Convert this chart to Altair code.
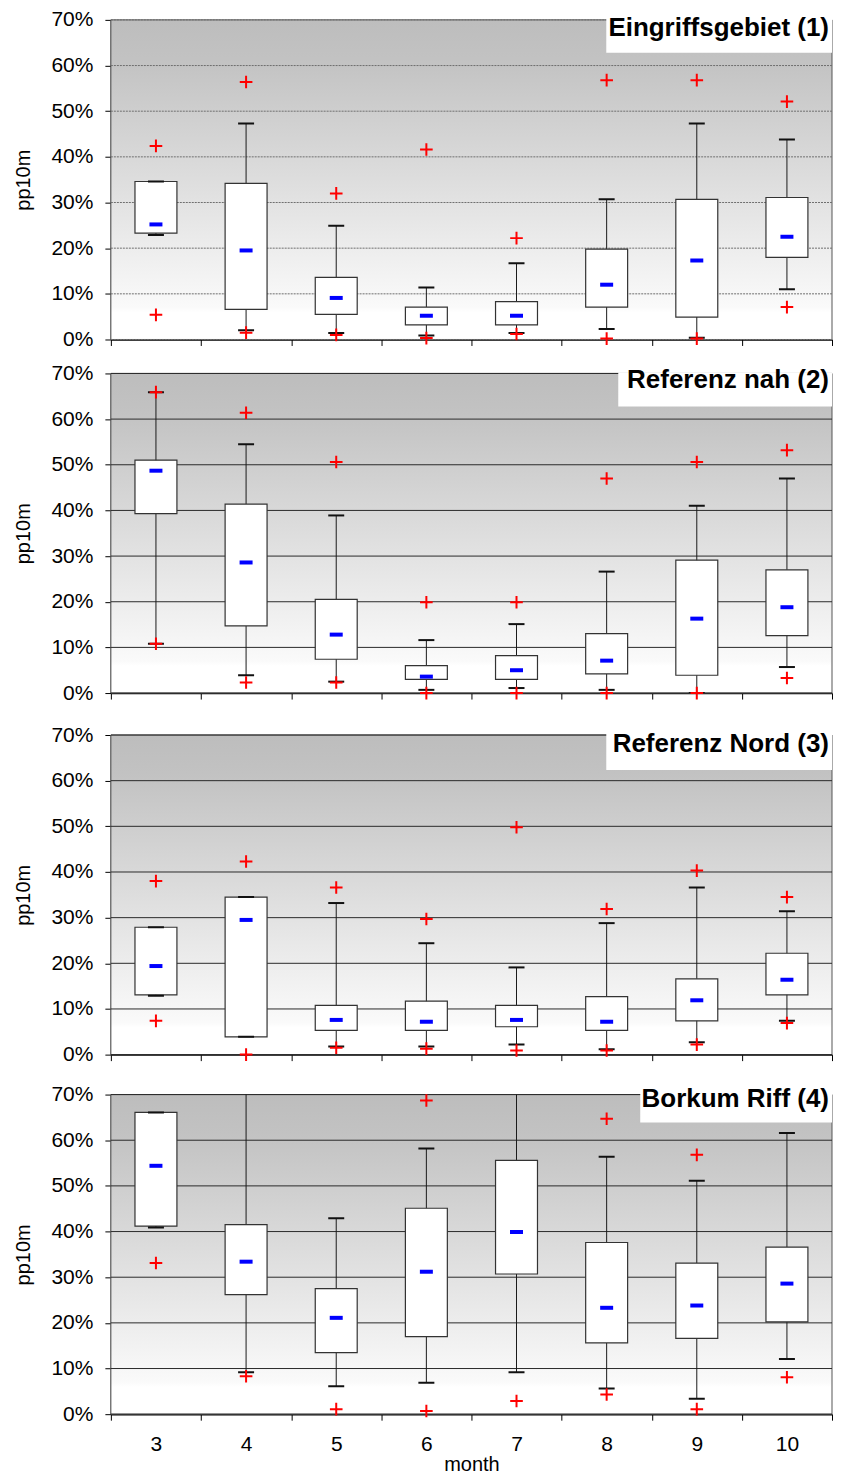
import altair as alt
import pandas as pd

months = [3, 4, 5, 6, 7, 8, 9, 10]
y_ticks = [0, 0.1, 0.2, 0.3, 0.4, 0.5, 0.6, 0.7]
titles = ["Eingriffsgebiet (1)", "Referenz nah (2)", "Referenz Nord (3)", "Borkum Riff (4)"]

# values in percent
p1_out_hi = [42.4, 56.4, 32.0, 41.6, 22.2, 56.8, 56.8, 52.1]
p1_wh_hi = [34.6, 47.3, 24.9, 11.4, 16.7, 30.7, 47.3, 43.8]
p1_q3 = [34.6, 34.2, 13.6, 7.1, 8.3, 19.8, 30.7, 31.1]
p1_med = [25.2, 19.5, 9.1, 5.2, 5.2, 12.0, 17.3, 22.5]
p1_q1 = [23.3, 6.6, 5.5, 3.2, 3.2, 7.1, 4.9, 18.0]
p1_wh_lo = [22.9, 2.0, 1.4, 0.9, 1.4, 2.3, 0.4, 11.0]
p1_out_lo = [5.4, 1.5, 1.0, 0.3, 1.2, 0.2, 0.2, 7.1]

p2_out_hi = [65.9, 61.4, 50.6, 19.9, 19.9, 47.0, 50.6, 53.2]
p2_wh_hi = [65.9, 54.5, 38.9, 11.6, 15.1, 26.6, 41.0, 47.0]
p2_q3 = [51.0, 41.4, 20.5, 6.0, 8.2, 13.0, 29.1, 27.0]
p2_med = [48.7, 28.6, 12.8, 3.6, 5.0, 7.1, 16.3, 18.8]
p2_q1 = [39.3, 14.7, 7.4, 3.0, 3.0, 4.2, 3.9, 12.6]
p2_wh_lo = [10.8, 3.9, 2.5, 0.7, 1.1, 0.7, 0.0, 5.7]
p2_out_lo = [10.8, 2.3, 2.3, 0.0, 0.0, 0.0, 0.0, 3.3]

p3_out_hi = [38.0, 42.3, 36.6, 29.7, 49.8, 31.9, 40.3, 34.5]
p3_wh_hi = [27.9, 34.5, 33.2, 24.4, 19.1, 28.8, 36.6, 31.4]
p3_q3 = [27.9, 34.5, 10.8, 11.7, 10.8, 12.7, 16.6, 22.2]
p3_med = [19.4, 29.5, 7.6, 7.2, 7.6, 7.2, 11.9, 16.4]
p3_q1 = [13.1, 3.9, 5.3, 5.3, 6.1, 5.3, 7.4, 13.1]
p3_wh_lo = [12.9, 3.9, 1.8, 1.8, 2.2, 1.2, 2.7, 7.4]
p3_out_lo = [7.4, 0.0, 1.5, 1.3, 0.9, 0.9, 2.2, 6.9]

p4_out_hi = [None, None, None, 68.7, None, 64.7, 56.8, None]
p4_wh_hi = [66.1, 73.0, 42.9, 58.2, 73.0, 56.4, 51.1, 61.6]
p4_q3 = [66.1, 41.5, 27.5, 45.1, 55.6, 37.6, 33.1, 36.6]
p4_med = [54.4, 33.4, 21.1, 31.2, 39.9, 23.3, 23.8, 28.6]
p4_q1 = [41.2, 26.2, 13.5, 17.0, 30.7, 15.6, 16.6, 20.2]
p4_wh_lo = [40.9, 9.2, 6.1, 6.9, 9.2, 5.6, 3.4, 12.1]
p4_out_lo = [33.1, 8.3, 1.1, 0.7, 2.9, 4.3, 1.1, 8.1]

panels = [
    (p1_out_hi, p1_wh_hi, p1_q3, p1_med, p1_q1, p1_wh_lo, p1_out_lo),
    (p2_out_hi, p2_wh_hi, p2_q3, p2_med, p2_q1, p2_wh_lo, p2_out_lo),
    (p3_out_hi, p3_wh_hi, p3_q3, p3_med, p3_q1, p3_wh_lo, p3_out_lo),
    (p4_out_hi, p4_wh_hi, p4_q3, p4_med, p4_q1, p4_wh_lo, p4_out_lo),
]

W = 722
H = 320
FONT = "Liberation Sans"
label_box_w = [226, 214, 226, 192]
label_box_h = [33, 33, 35, 28]
label_base = [16, 15, 17, 12]

gradient = {
    "gradient": "linear", "x1": 0, "y1": 0, "x2": 0, "y2": 1,
    "stops": [
        {"offset": 0.0, "color": "#bdbdbd"},
        {"offset": 0.12, "color": "#c2c2c2"},
        {"offset": 0.9, "color": "#fafafa"},
        {"offset": 0.915, "color": "#ffffff"},
        {"offset": 1.0, "color": "#ffffff"},
    ],
}


def pct(vals):
    return [None if v is None else v / 100.0 for v in vals]


def make_panel(i):
    ohi, whi, q3, med, q1, wlo, olo = panels[i]
    df = pd.DataFrame({
        "month": months,
        "ohi": pct(ohi), "whi": pct(whi), "q3": pct(q3), "med": pct(med),
        "q1": pct(q1), "wlo": pct(wlo), "olo": pct(olo),
    })
    last = i == 3
    yaxis = alt.Axis(values=y_ticks, format=".0%", title="pp10m", grid=False,
                     tickSize=6, tickColor="black", domainColor="black", domainWidth=1.5,
                     labelFont=FONT, labelFontSize=21, labelColor="black", labelPadding=12,
                     titleFont=FONT, titleFontSize=20, titleFontWeight="normal",
                     titleColor="black", titlePadding=17)
    xaxis_kw = dict(tickBand="extent", tickSize=6, tickColor="black", domainColor="black",
                    domainWidth=1.5, grid=False, labelAngle=0, labelFont=FONT,
                    labelFontSize=21, labelColor="black", labelPadding=13,
                    titleFont=FONT, titleFontSize=20, titleFontWeight="normal",
                    titleColor="black", titlePadding=0)
    if last:
        xaxis = alt.Axis(title="month", labels=True, **xaxis_kw)
    else:
        xaxis = alt.Axis(title="", labels=False, **xaxis_kw)
    yscale = alt.Scale(domain=[0, 0.7], nice=False, zero=False)

    one = alt.Data(values=[{"k": 1}])
    bg = alt.Chart(one).mark_rect(color=gradient, stroke="#555555", strokeWidth=1).encode(
        x=alt.value(0), x2=alt.value(W), y=alt.value(0), y2=alt.value(H))

    if i == 0:
        grid = alt.Chart(pd.DataFrame({"g": y_ticks})).mark_rule(
            color="#6e6e6e", strokeWidth=1, strokeDash=[2, 1])
    else:
        grid = alt.Chart(pd.DataFrame({"g": y_ticks})).mark_rule(
            color="#2a2a2a", strokeWidth=1)
    grid = grid.encode(y=alt.Y("g:Q", scale=yscale, axis=yaxis))

    base = alt.Chart(df).encode(
        x=alt.X("month:O", scale=alt.Scale(domain=months, paddingInner=0, paddingOuter=0), axis=xaxis)
    )
    whisk = base.mark_rule(color="#1a1a1a", strokeWidth=1, clip=True).encode(
        y=alt.Y("wlo:Q", scale=yscale, axis=yaxis), y2="whi:Q")
    box = base.mark_bar(width=42, fill="white", stroke="#333333", strokeWidth=1.2).encode(
        y="q1:Q", y2="q3:Q")
    cap_hi = base.mark_tick(size=16, thickness=2, color="#111111", clip=True, opacity=1).encode(y="whi:Q")
    cap_lo = base.mark_tick(size=16, thickness=2, color="#111111", clip=True, opacity=1).encode(y="wlo:Q")
    median = base.mark_tick(size=13, thickness=4, color="#0000ff", opacity=1).encode(y="med:Q")
    cross = "M-1,0H1M0,-1V1"
    o_hi = base.mark_point(shape=cross, size=160, filled=False, stroke="#ff0000",
                           strokeWidth=2, opacity=1).encode(y="ohi:Q")
    o_lo = base.mark_point(shape=cross, size=160, filled=False, stroke="#ff0000",
                           strokeWidth=2, opacity=1).encode(y="olo:Q")
    lab_rect = alt.Chart(one).mark_rect(fill="white").encode(
        x=alt.value(W - label_box_w[i]), x2=alt.value(W),
        y=alt.value(-1), y2=alt.value(label_box_h[i]))
    lab_text = alt.Chart(one).mark_text(
        text=titles[i], align="right", baseline="alphabetic", font=FONT,
        fontSize=26, fontWeight="bold", color="black").encode(
        x=alt.value(W - 3), y=alt.value(label_base[i]))
    return alt.layer(bg, grid, whisk, box, cap_hi, cap_lo, median, o_hi, o_lo,
                     lab_rect, lab_text).properties(width=W, height=H)


p = [make_panel(i) for i in range(4)]

chart = alt.vconcat(
    p[0],
    alt.vconcat(p[1], alt.vconcat(p[2], p[3], spacing=18), spacing=20),
    spacing=13,
).properties(
    padding={"left": 5, "top": 0, "right": 0, "bottom": 0},
    background="white",
).configure_view(
    strokeWidth=0
)

chart.save("out.html", embed_options={"renderer": "svg", "actions": False})
